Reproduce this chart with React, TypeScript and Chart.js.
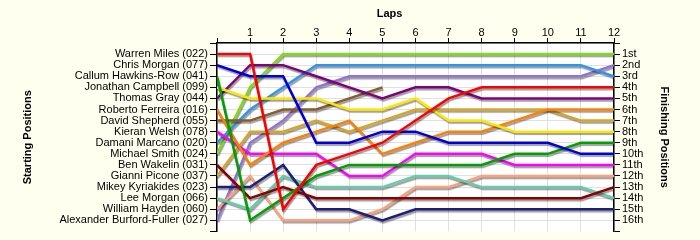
import React, { useEffect, useRef } from 'react';
import { Chart, registerables } from 'chart.js';

Chart.register(...registerables);

// ---- data ----
const laps = [0, 1, 2, 3, 4, 5, 6, 7, 8, 9, 10, 11, 12];

const drivers = [
  'Warren Miles (022)',
  'Chris Morgan (077)',
  'Callum Hawkins-Row (041)',
  'Jonathan Campbell (099)',
  'Thomas Gray (044)',
  'Roberto Ferreira (016)',
  'David Shepherd (055)',
  'Kieran Welsh (078)',
  'Damani Marcano (020)',
  'Michael Smith (024)',
  'Ben Wakelin (031)',
  'Gianni Picone (037)',
  'Mikey Kyriakides (023)',
  'Lee Morgan (066)',
  'William Hayden (060)',
  'Alexander Burford-Fuller (027)',
];

const finishLabels = [
  '1st', '2nd', '3rd', '4th', '5th', '6th', '7th', '8th',
  '9th', '10th', '11th', '12th', '13th', '14th', '15th', '16th',
];

const warrenMiles = [1, 1, 15, 11, 10, 9, 7, 5, 4, 4, 4, 4, 4];
const chrisMorgan = [2, 3, 3, 9, 9, 8, 8, 9, 9, 9, 9, 10, 10];
const callumHawkinsRow = [3, 16, 14, 12, 11, 11, 11, 11, 11, 10, 10, 9, 9];
const jonathanCampbell = [4, 5, 5, 5, 6, 6, 5, 7, 7, 8, 8, 8, 8];
const thomasGray = [5, 2, 2, 3, 4, 5, 4, 4, 5, 5, 5, 5, 5];
const robertoFerreira = [6, 11, 9, 8, 7, 10, 9, 8, 8, 7, 6, 6, 6];
const davidShepherd = [7, 7, 6, 6, 5, 4, null, null, null, null, null, null, null];
const kieranWelsh = [8, 10, 10, 10, 12, 12, 10, 10, 10, 11, 11, 11, 11];
const damaniMarcano = [9, 6, 4, 2, 2, 2, 2, 2, 2, 2, 2, 2, 3];
const michaelSmith = [10, 4, 1, 1, 1, 1, 1, 1, 1, 1, 1, 1, 1];
const benWakelin = [11, 14, 13, 14, 14, 14, 14, 14, 14, 14, 14, 14, 13];
const gianniPicone = [12, 8, 8, 7, 8, 7, 6, 6, 6, 6, 6, 7, 7];
const mikeyKyriakides = [13, 13, 11, 15, 15, 16, 15, 15, 15, 15, 15, 15, 15];
const leeMorgan = [14, 15, 12, 13, 13, 13, 12, 12, 13, 13, 13, 13, 14];
const williamHayden = [15, 12, 16, 16, 16, 15, 13, 13, 12, 12, 12, 12, 12];
const alexanderBurfordFuller = [16, 9, 7, 4, 3, 3, 3, 3, 3, 3, 3, 3, 2];

const series: (number | null)[][] = [
  warrenMiles, chrisMorgan, callumHawkinsRow, jonathanCampbell, thomasGray,
  robertoFerreira, davidShepherd, kieranWelsh, damaniMarcano, michaelSmith,
  benWakelin, gianniPicone, mikeyKyriakides, leeMorgan, williamHayden,
  alexanderBurfordFuller,
];

// ---- styles ----
const lineColors = [
  '#FF0000', '#0000DD', '#00A000', '#FFE600', '#800080', '#FF8000',
  '#8B5A2B', '#FF00FF', '#2B95F0', '#7FDD0F', '#8B0000', '#DAA520',
  '#1F1F7A', '#66CDAA', '#FFA07A', '#9370DB',
];

const FONT = '"Liberation Sans", Arial, sans-serif';
const GRID = '#e0e0e0';

const shadowPlugin = {
  id: 'lineShadow',
  beforeDatasetDraw(chart: any) {
    const c = chart.ctx;
    c.save();
    c.shadowColor = 'rgba(0,0,0,0.38)';
    c.shadowBlur = 1;
    c.shadowOffsetX = 1;
    c.shadowOffsetY = 2;
  },
  afterDatasetDraw(chart: any) {
    chart.ctx.restore();
  },
};

const plotBgPlugin = {
  id: 'plotBg',
  beforeDraw(chart: any) {
    const { ctx, chartArea } = chart;
    ctx.save();
    ctx.fillStyle = '#ffffff';
    ctx.fillRect(chartArea.left, chartArea.top, chartArea.right - chartArea.left, chartArea.bottom - chartArea.top);
    ctx.restore();
  },
};

export default function App() {
  const ref = useRef<HTMLCanvasElement>(null);

  useEffect(() => {
    document.body.style.margin = '0';
    if (!ref.current) return;
    const datasets = series.map((s, i) => ({
      label: drivers[i],
      data: s
        .map((v, k) => ({ x: laps[k], y: v }))
        .filter((p) => p.y !== null),
      borderColor: lineColors[i],
      backgroundColor: lineColors[i],
      borderWidth: 2.5,
      pointRadius: 0,
      tension: 0,
      fill: false,
      yAxisID: 'y',
    }));

    const chart = new Chart(ref.current, {
      type: 'line',
      data: { datasets },
      plugins: [plotBgPlugin, shadowPlugin],
      options: {
        animation: false,
        responsive: true,
        maintainAspectRatio: false,
        layout: { padding: { left: 0, right: 0, top: 0, bottom: 8 } },
        plugins: {
          legend: { display: false },
          tooltip: { enabled: false },
        },
        scales: {
          x: {
            type: 'linear',
            position: 'top',
            min: 0,
            max: 12,
            afterFit: (s: any) => { s.height = 43; },
            ticks: {
              stepSize: 1,
              autoSkip: false,
              maxRotation: 0,
              padding: -2,
              color: '#000',
              font: { family: FONT, size: 11 },
              callback: (v: any) => (v === 0 ? '' : String(v)),
            },
            grid: { color: GRID, tickColor: '#000', tickLength: 5, lineWidth: 1 },
            border: { display: true, color: '#000', width: 1.5 },
            title: {
              display: true,
              text: 'Laps                 ',
              color: '#000',
              font: { family: FONT, size: 11, weight: 'bold' },
              padding: { top: 7, bottom: 0 },
            },
          },
          y: {
            type: 'linear',
            position: 'left',
            reverse: true,
            min: 0,
            max: 17,
            afterFit: (s: any) => { s.width = 217; },
            ticks: {
              stepSize: 1,
              autoSkip: false,
              padding: 2,
              color: '#000',
              font: { family: FONT, size: 11 },
              callback: (v: any) => drivers[v - 1] ?? '',
            },
            grid: {
              color: (c: any) => (c.tick && c.tick.value === 17 ? 'rgba(0,0,0,0)' : GRID),
              tickColor: '#000',
              tickLength: 7,
              lineWidth: 1,
            },
            border: { display: true, color: '#000', width: 1.5 },
            title: {
              display: true,
              text: 'Starting Positions',
              color: '#000',
              font: { family: FONT, size: 11, weight: 'bold' },
              padding: { top: 21, bottom: 0 },
            },
          },
          y2: {
            type: 'linear',
            position: 'right',
            reverse: true,
            min: 0,
            max: 17,
            afterFit: (s: any) => { s.width = 86; },
            ticks: {
              stepSize: 1,
              autoSkip: false,
              padding: 2,
              color: '#000',
              font: { family: FONT, size: 11 },
              callback: (v: any) => finishLabels[v - 1] ?? '',
            },
            grid: { drawOnChartArea: false, tickColor: '#000', tickLength: 6, lineWidth: 1 },
            border: { display: true, color: '#000', width: 1.5 },
            title: {
              display: true,
              text: 'Finishing Positions',
              color: '#000',
              font: { family: FONT, size: 11, weight: 'bold' },
              padding: { top: 29, bottom: 0 },
            },
          },
        },
      },
    } as any);

    return () => chart.destroy();
  }, []);

  return (
    <div style={{ position: 'absolute', left: 0, top: 0, width: 700, height: 240, background: '#FFFFF0' }}>
      <canvas ref={ref} />
    </div>
  );
}
